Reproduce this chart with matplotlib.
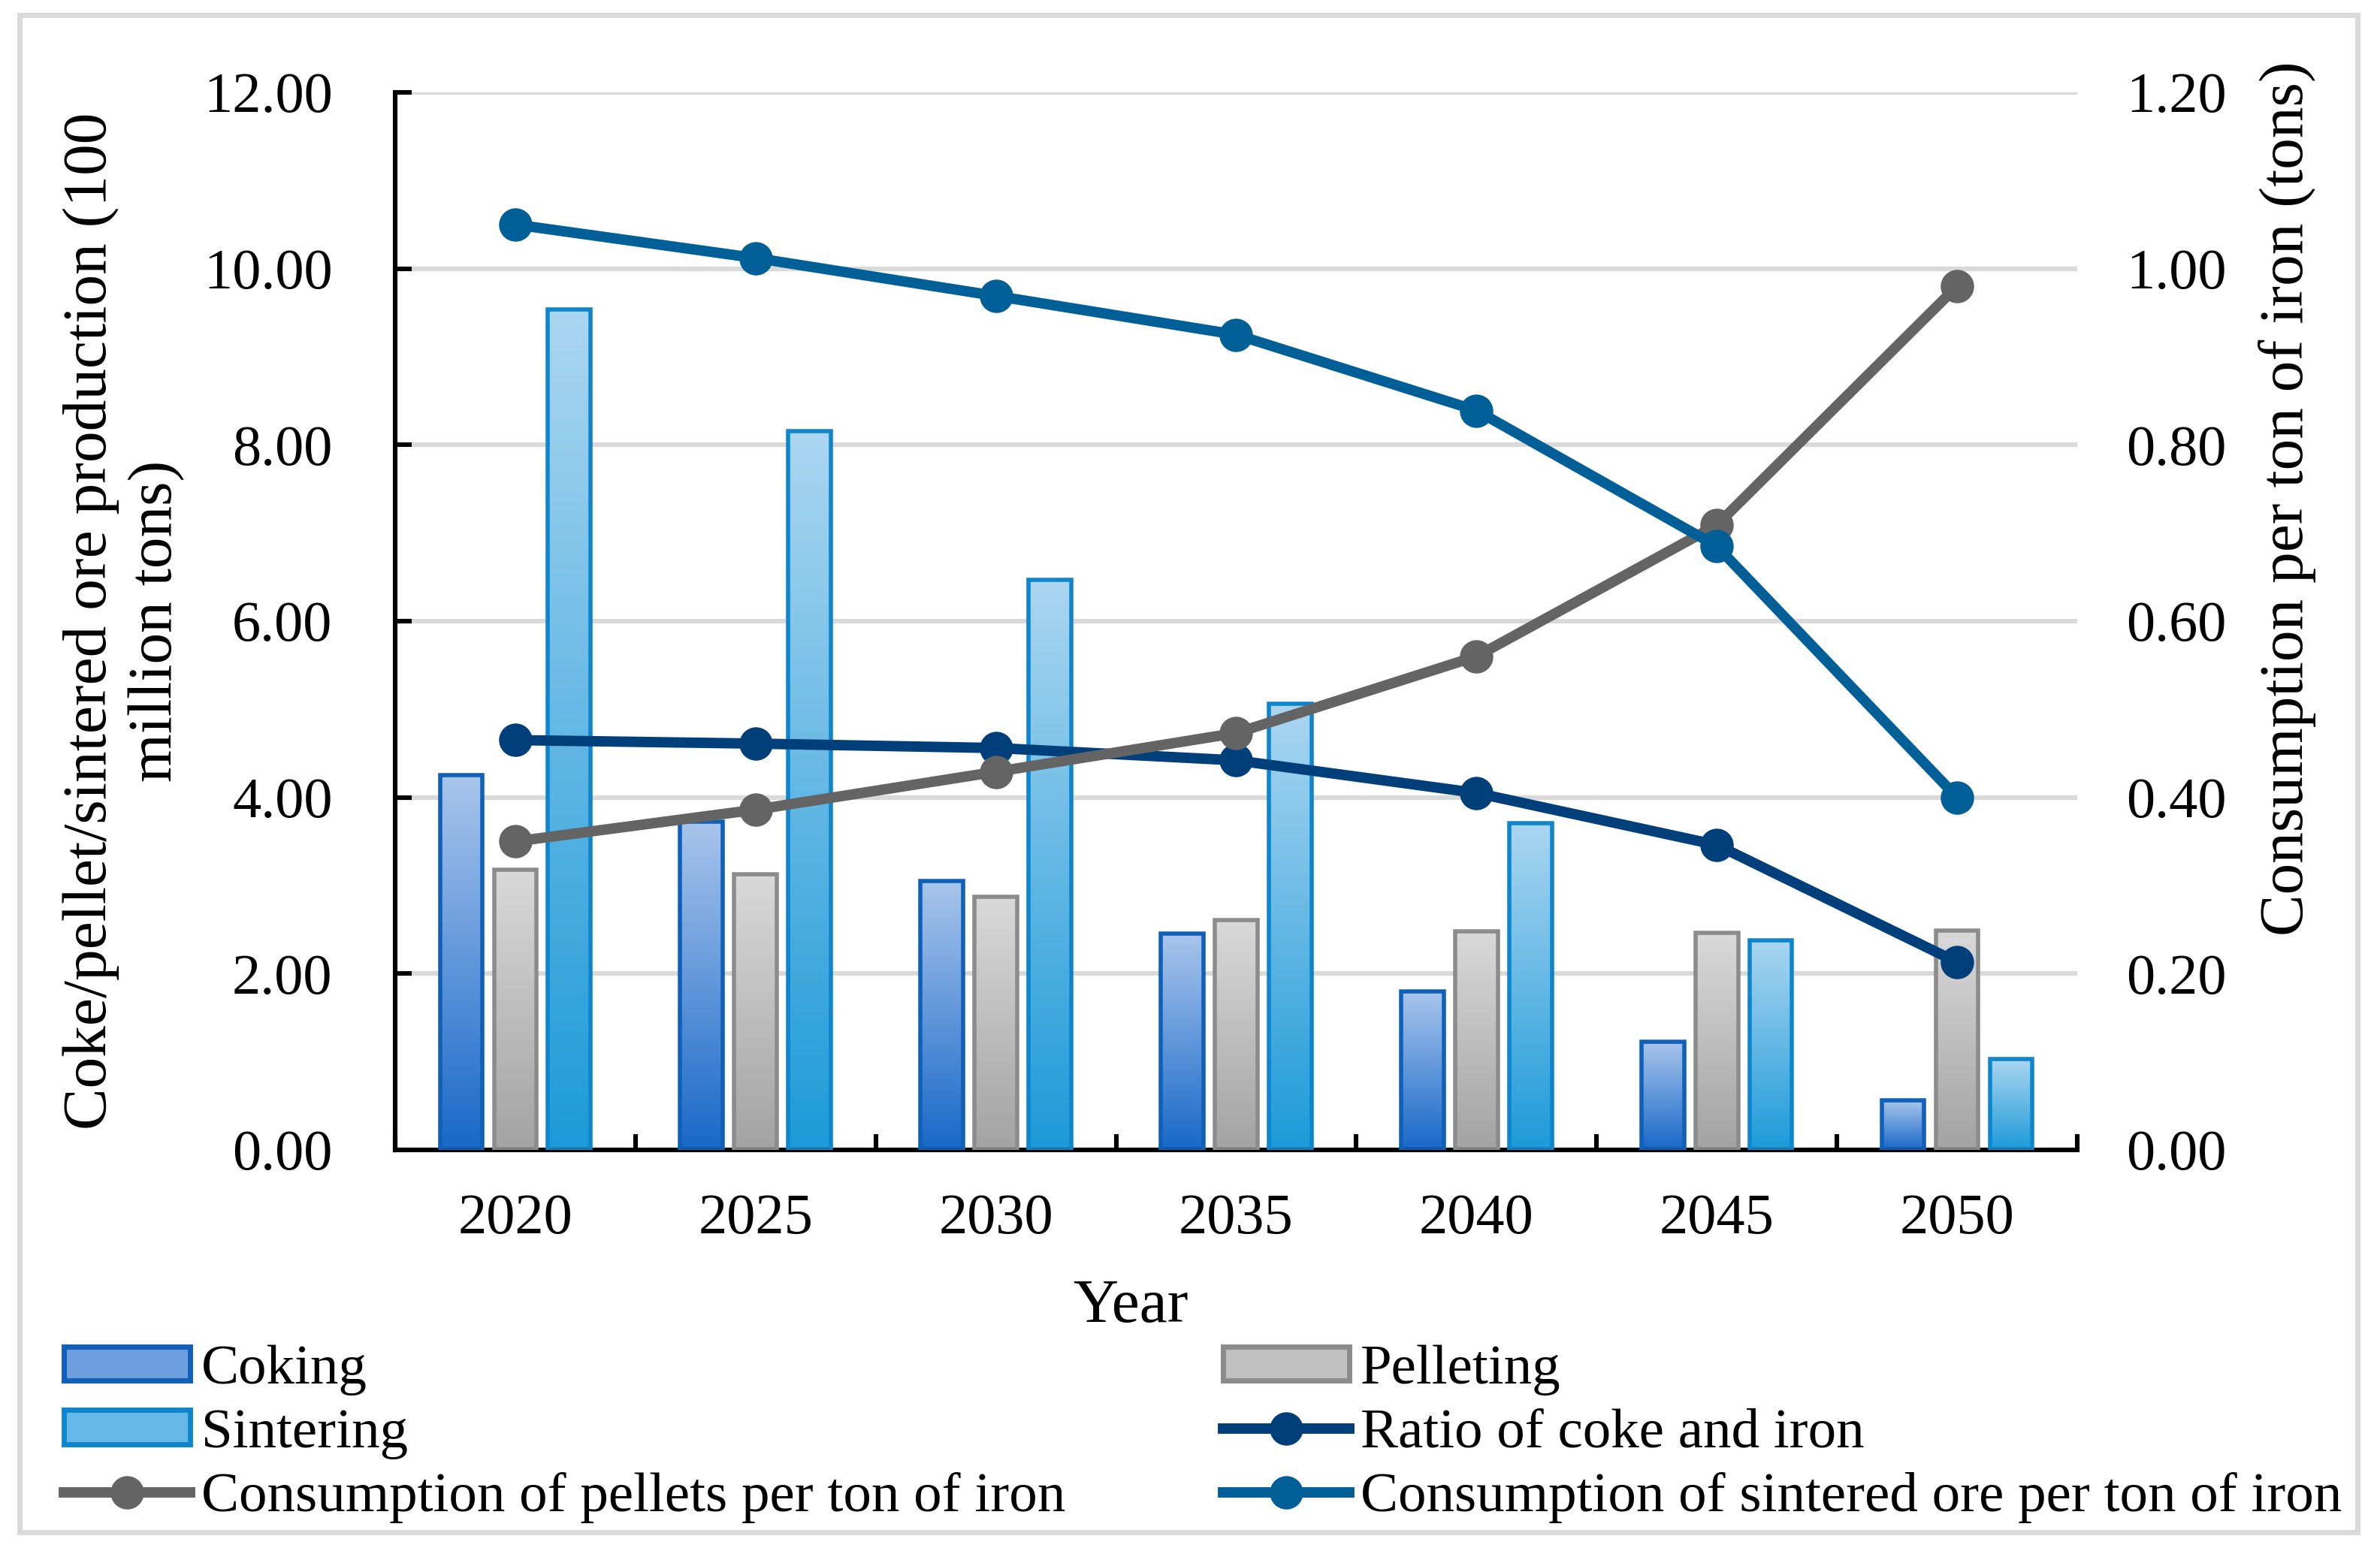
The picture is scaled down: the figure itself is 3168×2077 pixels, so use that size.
import numpy as np
import matplotlib
matplotlib.use("Agg")
import matplotlib.pyplot as plt
from matplotlib.colors import LinearSegmentedColormap
from matplotlib.patches import Patch, Rectangle
from matplotlib.lines import Line2D

plt.rcParams['font.family'] = ['Liberation Serif', 'DejaVu Serif']

years = ["2020", "2025", "2030", "2035", "2040", "2045", "2050"]
coking = [4.25, 3.72, 3.05, 2.45, 1.80, 1.23, 0.56]
pelleting = [3.18, 3.13, 2.87, 2.61, 2.48, 2.46, 2.49]
sintering = [9.54, 8.16, 6.47, 5.06, 3.71, 2.38, 1.03]
ratio_coke_iron = [0.465, 0.461, 0.456, 0.442, 0.405, 0.346, 0.213]
pellets_per_ton = [0.350, 0.386, 0.429, 0.473, 0.560, 0.709, 0.980]
sinter_per_ton = [1.050, 1.012, 0.969, 0.925, 0.839, 0.685, 0.400]

FS = 27.5
LFS = 30
fig = plt.figure(figsize=(15.84, 10.385), dpi=200)
ax = fig.add_axes([0.166, 0.2629, 0.7068, 0.6779])
ax2 = ax.twinx()

x = np.arange(len(years))
off = 0.225
w = 0.177

def grad_bars(ax, bars, top, bottom, edge):
    cmap = LinearSegmentedColormap.from_list('g', [bottom, top])
    g = np.linspace(0, 1, 256).reshape(-1, 1)
    for b in bars:
        bx, by, bw, bh = b.get_x(), b.get_y(), b.get_width(), b.get_height()
        im = ax.imshow(g, extent=[bx, bx + bw, by, by + bh], origin='lower',
                       aspect='auto', cmap=cmap, zorder=2, interpolation='bilinear')
        im.set_clip_path(b)
        b.set_facecolor('none')
        b.set_edgecolor(edge)
        b.set_zorder(3)

b1 = ax.bar(x - off, coking, w, linewidth=2.0)
b2 = ax.bar(x, pelleting, w, linewidth=2.0)
b3 = ax.bar(x + off, sintering, w, linewidth=2.0)
grad_bars(ax, b1, '#A9C5EC', '#1868C8', '#1160B8')
grad_bars(ax, b2, '#D9D9D9', '#A3A3A3', '#8C8C8C')
grad_bars(ax, b3, '#ABD6F1', '#1D9AD8', '#0F86CC')

ax.set_xlim(-0.5, len(years) - 0.5)
ax.set_ylim(0, 12)
ax.set_yticks(np.arange(0, 12.01, 2))
ax.set_yticklabels([f"{v:.2f}" for v in np.arange(0, 12.01, 2)])
ax.set_xticks(x)
ax.set_xticklabels(years)
ax.set_xticks(np.arange(-0.5, len(years), 1), minor=True)
ax.tick_params(axis='x', which='major', length=0, pad=21, labelsize=FS)
ax.tick_params(axis='x', which='minor', direction='in', length=7.5, width=2.2)
ax.tick_params(axis='y', direction='in', length=8, width=2.2, pad=30, labelsize=FS)
ax.grid(axis='y', color='#D9D9D9', linewidth=2.2, zorder=0)
ax.set_axisbelow(True)
for s in ['top', 'right']:
    ax.spines[s].set_visible(False)
ax.spines['left'].set_linewidth(2.2)
ax.spines['bottom'].set_linewidth(2.2)

lw = 5
ms = 15
ax2.plot(x, ratio_coke_iron, color='#003F7A', lw=lw, marker='o', ms=ms, zorder=5)
ax2.plot(x, pellets_per_ton, color='#646464', lw=lw, marker='o', ms=ms, zorder=6)
ax2.plot(x, sinter_per_ton, color='#005F96', lw=lw, marker='o', ms=ms, zorder=7)
ax2.set_ylim(0, 1.2)
ax2.set_yticks(np.arange(0, 1.201, 0.2))
ax2.set_yticklabels([f"{v:.2f}" for v in np.arange(0, 1.201, 0.2)])
ax2.tick_params(axis='y', length=0, pad=23.5, labelsize=FS)
for s in ['top', 'right', 'left', 'bottom']:
    ax2.spines[s].set_visible(False)

ax.set_ylabel("Coke/pellet/sintered ore production (100\nmillion tons)", fontsize=30, linespacing=1.2)
ax.yaxis.set_label_coords(-0.125, 0.5)
ax2.set_ylabel("Consumption per ton of iron (tons)", fontsize=LFS)
ax2.yaxis.set_label_coords(1.1076, 0.616)
ax.set_xlabel("Year", fontsize=LFS)
ax.xaxis.set_label_coords(0.437, -0.122)

handles = [
    Patch(facecolor='#6C9DDD', edgecolor='#1160B8', linewidth=2.5),
    Patch(facecolor='#66B9E6', edgecolor='#0F86CC', linewidth=2.5),
    Line2D([], [], color='#646464', lw=lw, marker='o', ms=ms),
    Patch(facecolor='#C0C0C0', edgecolor='#8C8C8C', linewidth=2.5),
    Line2D([], [], color='#003F7A', lw=lw, marker='o', ms=ms),
    Line2D([], [], color='#005F96', lw=lw, marker='o', ms=ms),
]
labels = ["Coking", "Sintering", "Consumption of pellets per ton of iron",
          "Pelleting", "Ratio of coke and iron", "Consumption of sintered ore per ton of iron"]
fig.legend(handles, labels, ncol=2, loc='upper left', bbox_to_anchor=(0.0268, 0.138),
           frameon=False, fontsize=27, borderpad=0, handlelength=2.24, handleheight=0.55,
           handletextpad=0.2, labelspacing=0.23, columnspacing=2.8, borderaxespad=0)

fig.patches.append(Rectangle((0.0082, 0.0178), 0.9823, 0.9726, transform=fig.transFigure,
                             fill=False, edgecolor='#D9D9D9', linewidth=2.5))

fig.savefig("out.png", dpi=200)
